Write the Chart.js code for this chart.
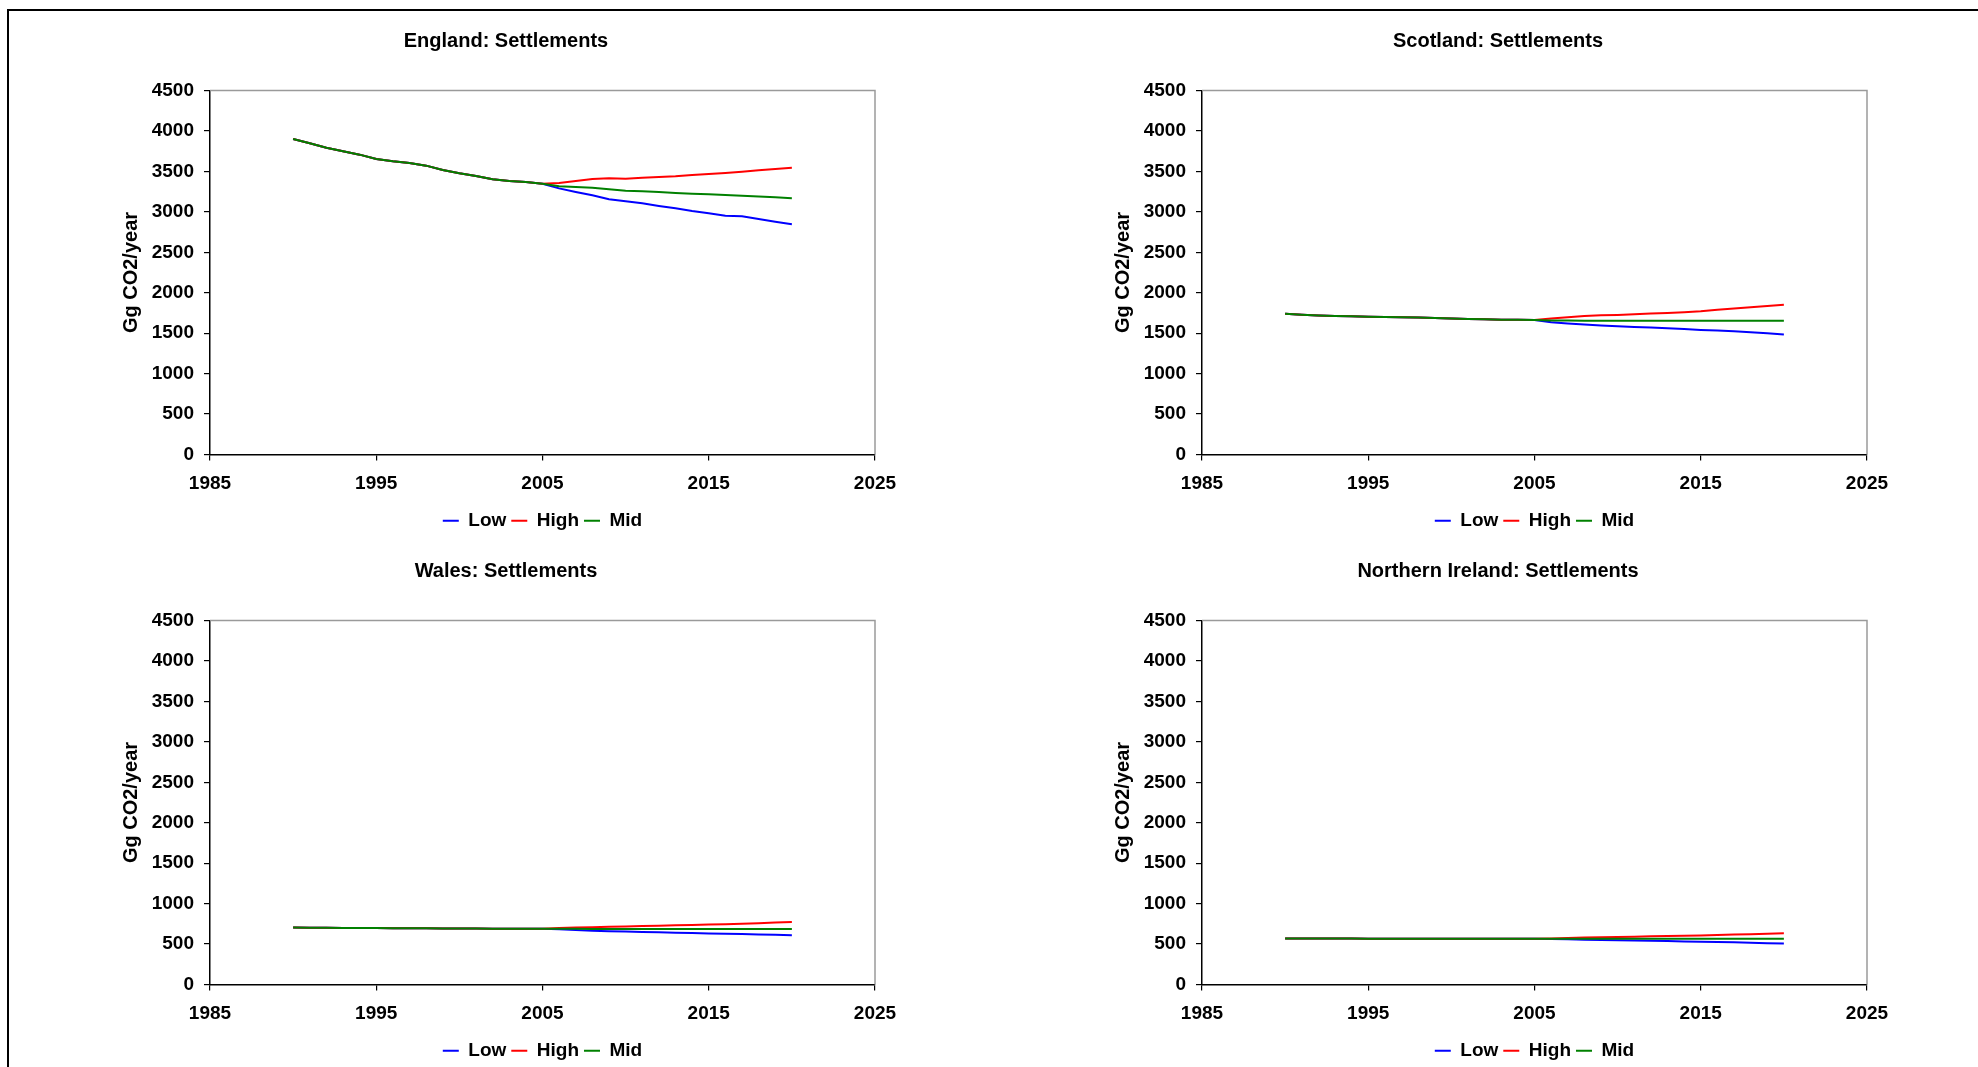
<!DOCTYPE html>
<html>
<head>
<meta charset="utf-8">
<script src="https://cdn.jsdelivr.net/npm/chart.js@4.4.1/dist/chart.umd.min.js"></script>
<style>
  html, body { margin: 0; padding: 0; background: #fff; overflow: hidden; width: 1978px; height: 1067px; }
  #frame { position: absolute; left: 7px; top: 9px; width: 2000px; height: 1100px; border-top: 2px solid #000; border-left: 2px solid #000; }
  canvas { position: absolute; }
</style>
</head>
<body>
<div id="frame"></div>
<canvas id="c0" width="989" height="541" style="left:0px;top:0px"></canvas>
<canvas id="c1" width="989" height="541" style="left:991.5px;top:0px"></canvas>
<canvas id="c2" width="989" height="541" style="left:0px;top:530.2px"></canvas>
<canvas id="c3" width="989" height="541" style="left:991.5px;top:530.2px"></canvas>
<script>
// ---- data ----
const years = [1990, 1991, 1992, 1993, 1994, 1995, 1996, 1997, 1998, 1999, 2000, 2001, 2002, 2003, 2004, 2005,
               2006, 2007, 2008, 2009, 2010, 2011, 2012, 2013, 2014, 2015, 2016, 2017, 2018, 2019, 2020];
const seriesNames = ['Low', 'High', 'Mid'];
const chartTitles = ['England: Settlements', 'Scotland: Settlements', 'Wales: Settlements', 'Northern Ireland: Settlements'];
const yAxisTitle = 'Gg CO2/year';
const xTickLabels = [1985, 1995, 2005, 2015, 2025];
const yTickLabels = [0, 500, 1000, 1500, 2000, 2500, 3000, 3500, 4000, 4500];

const englandLow  = [3900, 3847, 3793, 3748, 3707, 3653, 3625, 3604, 3571, 3517, 3476, 3443, 3402, 3381, 3369, 3348,
                     3290, 3245, 3204, 3155, 3130, 3105, 3072, 3043, 3010, 2982, 2952, 2945, 2911, 2878, 2846];
const englandHigh = [3900, 3847, 3793, 3748, 3707, 3653, 3625, 3604, 3571, 3517, 3476, 3443, 3402, 3381, 3369, 3348,
                     3356, 3381, 3406, 3414, 3410, 3422, 3431, 3439, 3455, 3468, 3480, 3496, 3513, 3529, 3546];
const englandMid  = [3900, 3847, 3793, 3748, 3707, 3653, 3625, 3604, 3571, 3517, 3476, 3443, 3402, 3381, 3369, 3348,
                     3315, 3307, 3299, 3278, 3261, 3253, 3245, 3233, 3224, 3216, 3208, 3200, 3191, 3179, 3167];

const scotlandLow  = [1740, 1728, 1718, 1712, 1708, 1703, 1700, 1698, 1695, 1688, 1681, 1676, 1671, 1667, 1665, 1662,
                      1635, 1619, 1606, 1594, 1585, 1577, 1569, 1561, 1552, 1540, 1532, 1524, 1512, 1499, 1483];
const scotlandHigh = [1740, 1728, 1718, 1712, 1708, 1703, 1700, 1698, 1695, 1688, 1681, 1676, 1671, 1667, 1665, 1662,
                      1680, 1696, 1713, 1721, 1725, 1733, 1742, 1750, 1758, 1770, 1790, 1805, 1820, 1835, 1852];
const scotlandMid  = [1740, 1728, 1718, 1712, 1708, 1703, 1700, 1698, 1695, 1688, 1681, 1676, 1671, 1667, 1665, 1662,
                      1658, 1656, 1655, 1655, 1655, 1654, 1654, 1654, 1654, 1654, 1654, 1654, 1654, 1654, 1654];

const walesLow  = [705, 703, 702, 700, 699, 697, 696, 695, 694, 693, 692, 691, 690, 690, 689, 689,
                   683, 675, 666, 658, 654, 650, 645, 641, 637, 632, 628, 624, 619, 614, 608];
const walesHigh = [705, 703, 702, 700, 699, 697, 696, 695, 694, 693, 692, 691, 690, 690, 689, 689,
                   697, 705, 709, 714, 718, 722, 726, 731, 736, 741, 746, 752, 758, 765, 772];
const walesMid  = [705, 703, 702, 700, 699, 697, 696, 695, 694, 693, 692, 691, 690, 690, 689, 689,
                   688, 688, 687, 687, 687, 687, 686, 686, 686, 686, 686, 686, 686, 685, 685];

const niLow  = [568, 568, 568, 568, 568, 567, 567, 567, 567, 567, 567, 567, 567, 567, 567, 567,
                563, 558, 554, 550, 547, 544, 541, 537, 533, 529, 525, 521, 516, 511, 506];
const niHigh = [568, 568, 568, 568, 568, 567, 567, 567, 567, 567, 567, 567, 567, 567, 567, 567,
                570, 575, 580, 584, 588, 591, 595, 599, 603, 607, 612, 617, 622, 628, 634];
const niMid  = [568, 568, 568, 568, 568, 567, 567, 567, 567, 567, 567, 567, 567, 567, 567, 567,
                567, 567, 567, 567, 567, 567, 567, 567, 567, 567, 567, 567, 567, 567, 567];

const regionSeries = [
  [englandLow, englandHigh, englandMid],
  [scotlandLow, scotlandHigh, scotlandMid],
  [walesLow, walesHigh, walesMid],
  [niLow, niHigh, niMid]
];

// ---- styles ----
const seriesColors = ['#0000FF', '#FF0000', '#008000'];
const drawOrder = [2, 1, 0]; // Mid drawn on top
const FONT = "'Liberation Sans', Arial, Helvetica, sans-serif";

const plotFrame = {
  id: 'plotFrame',
  beforeDatasetsDraw(chart) {
    const {ctx, chartArea: a} = chart;
    ctx.save();
    ctx.strokeStyle = '#9a9a9a';
    ctx.lineWidth = 1.5;
    ctx.beginPath();
    ctx.moveTo(a.left, a.top);
    ctx.lineTo(a.right, a.top);
    ctx.lineTo(a.right, a.bottom);
    ctx.stroke();
    ctx.restore();
  }
};

function makeChart(idx) {
  const ctx = document.getElementById('c' + idx);
  const datasets = seriesNames.map((name, s) => ({
    label: name,
    data: years.map((y, i) => ({x: y, y: regionSeries[idx][s][i]})),
    borderColor: seriesColors[s],
    backgroundColor: seriesColors[s],
    borderWidth: 2,
    pointRadius: 0,
    tension: 0,
    order: drawOrder[s]
  }));
  new Chart(ctx, {
    type: 'line',
    data: { datasets },
    plugins: [plotFrame],
    options: {
      responsive: false,
      animation: false,
      devicePixelRatio: 1,
      layout: { padding: { left: 137, right: 114, top: 0, bottom: 0.8 } },
      plugins: {
        title: {
          display: true,
          text: chartTitles[idx],
          color: '#000',
          font: { family: FONT, size: 20, weight: 'bold' },
          padding: { top: 29, bottom: 37.5 }
        },
        legend: {
          display: true,
          position: 'bottom',
          fullSize: false,
          labels: {
            usePointStyle: true,
            pointStyle: 'line',
            pointStyleWidth: 16,
            padding: 5,
            color: '#000',
            font: { family: FONT, size: 19, weight: 'bold' },
            sort: (a, b) => a.datasetIndex - b.datasetIndex
          }
        },
        tooltip: { enabled: false }
      },
      scales: {
        x: {
          type: 'linear',
          min: xTickLabels[0],
          max: xTickLabels[xTickLabels.length - 1],
          afterBuildTicks: s => { s.ticks = xTickLabels.map(v => ({value: v})); },
          afterFit: s => { s.height = 51.7; },
          border: { display: true, color: '#000', width: 1.5 },
          grid: { drawOnChartArea: false, drawTicks: true, tickLength: 6, color: '#000', lineWidth: 1.2 },
          ticks: {
            color: '#000',
            padding: 12,
            maxRotation: 0,
            font: { family: FONT, size: 19, weight: 'bold' },
            callback: v => String(v)
          }
        },
        y: {
          type: 'linear',
          min: yTickLabels[0],
          max: yTickLabels[yTickLabels.length - 1],
          afterBuildTicks: s => { s.ticks = yTickLabels.map(v => ({value: v})); },
          afterFit: s => { s.width = 73; },
          border: { display: true, color: '#000', width: 1.5 },
          grid: { drawOnChartArea: false, drawTicks: true, tickLength: 6, color: '#000', lineWidth: 1.2 },
          ticks: {
            color: '#000',
            padding: 10,
            font: { family: FONT, size: 19, weight: 'bold' },
            callback: v => String(v)
          },
          title: {
            display: true,
            text: yAxisTitle,
            color: '#000',
            font: { family: FONT, size: 20, weight: 'bold' },
            padding: { top: -18, bottom: 0 }
          }
        }
      }
    }
  });
}

[0, 1, 2, 3].forEach(makeChart);
</script>
</body>
</html>
